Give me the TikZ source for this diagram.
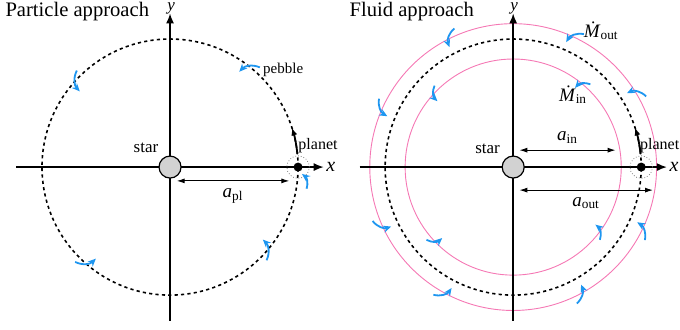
\documentclass[tikz,border=0pt]{standalone}
\usepackage{fontspec}
\setmainfont{Liberation Serif}
\usepackage{tikz}
\usetikzlibrary{arrows.meta,positioning}
\definecolor{flowblue}{RGB}{30,150,240}
\definecolor{ringpink}{RGB}{245,120,180}

\begin{document}
\begin{tikzpicture}[x=0.9cm,y=0.9cm,
  axis/.style={line width=0.7pt,-{Latex[length=5pt,width=4pt]}},
  orbit/.style={line width=0.8pt,dash pattern=on 1.6pt off 1.6pt},
  ring/.style={ringpink,line width=0.45pt},
  flow/.style={flowblue,line width=0.9pt,-{Stealth[length=4pt,width=3.5pt]}},
  dim/.style={line width=0.5pt,{Latex[length=4pt,width=2.5pt]}-{Latex[length=4pt,width=2.5pt]}},
  starbody/.style={circle,draw,line width=0.6pt,fill=gray!35,minimum size=11pt,inner sep=0pt},
  planetdot/.style={circle,fill=black,minimum size=4.5pt,inner sep=0pt},
  hill/.style={gray,densely dotted,line width=0.4pt},
  lbl/.style={font=\fontsize{8.5}{10}\selectfont},
  mlbl/.style={font=\fontsize{9.5}{11}\selectfont},
  heading/.style={anchor=base west,inner sep=0pt,font=\fontsize{10.3}{12}\selectfont}]
  \useasboundingbox (-3.32,-3.164) rectangle (9.957,3.262);

  % particle approach
  \begin{scope}
    \draw[axis] (-3,0) -- (3,0) node[right,inner sep=1pt] (xl) {\textit{x}};
    \draw[axis] (0,-3) -- (0,3);
    \node[inner sep=0pt,lbl] (yl) at (0.02,3.1) {\textit{y}};
    \draw[orbit] (0,0) circle (2.5);
    \node[starbody] (star) at (0,0) {};
    \node[lbl] (starlbl) at (-0.47,0.37) {star};
    \draw[hill] (2.5,0) circle (0.22);
    \node[planetdot] (planet) at (2.5,0) {};
    \node[font=\fontsize{8}{10}\selectfont,anchor=west,inner sep=0pt] (planetlbl) at (2.5,0.41) {planet};
    \draw[line width=0.9pt,-{Latex[length=4pt,width=3pt]}] (6:2.5) arc[start angle=6,end angle=18,radius=2.5];
    \foreach \a in {48,134,225,316}
      \draw[flow] (\a:2.62) to[bend right=35] ({\a+6}:2.3);
    \draw[flow] (-9:2.7) to[bend right=35] (-3:2.58);
    \node[font=\fontsize{7.5}{9}\selectfont] (pebble) at (2.21,1.89) {pebble};
    \coordinate (plA) at (0.13,-0.27);
    \coordinate (plB) at (2.33,-0.27);
    \draw[dim] (plA) -- (plB) node[midway,below,mlbl] (apl) {\textit{a}\textsubscript{pl}};
    \node[heading] (title1) at (-3.22,2.94) {Particle approach};
  \end{scope}

  % fluid approach
  \begin{scope}[shift={(6.7,0)}]
    \draw[ring] (0,0) circle (2.8);
    \draw[ring] (0,0) circle (2.11);
    \draw[axis] (-3,0) -- (3,0) node[right,inner sep=1pt] (xr) {\textit{x}};
    \draw[axis] (0,-3) -- (0,3);
    \node[inner sep=0pt,lbl] (yr) at (0.02,3.1) {\textit{y}};
    \draw[orbit] (0,0) circle (2.5);
    \node[starbody] (star2) at (0,0) {};
    \node[lbl] (starlbl2) at (-0.5,0.35) {star};
    \draw[hill] (2.5,0) circle (0.22);
    \node[planetdot] (planet2) at (2.5,0) {};
    \node[font=\fontsize{8}{10}\selectfont,anchor=west,inner sep=0pt] (planetlbl2) at (2.47,0.41) {planet};
    \draw[line width=0.9pt,-{Latex[length=4pt,width=3pt]}] (6:2.5) arc[start angle=6,end angle=18,radius=2.5];
    \foreach \a in {28,62,113,153,201,238,295,331}
      \draw[flow] (\a:2.94) to[bend right=35] ({\a+5}:2.65);
    \foreach \a in {47,134,220,320}
      \draw[flow] (\a:2.21) to[bend right=35] ({\a+5}:1.96);
    \node[mlbl] (mout) at (1.72,2.66) {\textit{\.M}\textsubscript{out}};
    \node[mlbl] (min) at (1.17,1.41) {\textit{\.M}\textsubscript{in}};
    \coordinate (inA) at (0.12,0.33);
    \coordinate (inB) at (2.0,0.33);
    \draw[dim] (inA) -- (inB) node[midway,above,mlbl] (ain) {\textit{a}\textsubscript{in}};
    \coordinate (outA) at (0.12,-0.45);
    \coordinate (outB) at (2.73,-0.45);
    \draw[dim] (outA) -- (outB) node[midway,below,mlbl] (aout) {\textit{a}\textsubscript{out}};
    \node[heading] (title2) at (-3.2,2.94) {Fluid approach};
  \end{scope}
\end{tikzpicture}
\end{document}
